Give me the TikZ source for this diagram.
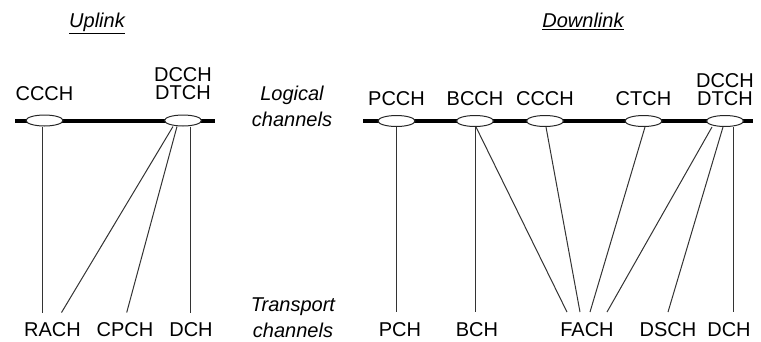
\documentclass[tikz,border=0pt]{standalone}
\usepackage{fontspec}
\setmainfont{Liberation Sans}
\usetikzlibrary{shapes.geometric}
\begin{document}
\begin{tikzpicture}[x=1pt,y=-1pt,
  lbl/.style={inner sep=0pt, anchor=base, font=\fontsize{20}{18.5}\selectfont, align=center},
  side/.style={inner sep=0pt, anchor=base, font=\fontsize{20}{26}\selectfont\itshape, align=center},
  head/.style={inner sep=0pt, anchor=base, font=\fontsize{20}{24}\selectfont\itshape},
  trch/.style={lbl, outer ysep=10pt},
  chan/.style={draw=black!85, line width=1pt, fill=white, ellipse,
               minimum width=37pt, minimum height=11pt, inner sep=0pt},
  bus/.style={line width=4pt, black},
  link/.style={draw=black!80, line width=1pt}]
\useasboundingbox (0,0) rectangle (761,341);

% headings
\node[head] (uphead) at (97,27.5) {\underline{Uplink}};
\node[head] (dnhead) at (583,27.5) {\underline{Downlink}};

% side captions
\node[side] (logical) at (292,126.7) {Logical\\channels};
\node[side] (transport) at (293,337) {Transport\\channels};

% logical channel buses
\draw[bus] (15,120.5) -- (215,120.5);
\draw[bus] (363,121) -- (753,121);

% uplink logical channels
\node[chan] (cU) at (44.5,120.5) {};
\node[chan] (dU) at (183,120.5) {};
\node[lbl] (cUt) at (44.5,100.7) {CCCH};
\node[lbl] (dUt) at (183,99.5) {DCCH\\DTCH};

% downlink logical channels
\node[chan] (p)  at (396.5,121) {};
\node[chan] (b)  at (475,121) {};
\node[chan] (cD) at (545,121) {};
\node[chan] (ct) at (643.5,121) {};
\node[chan] (dD) at (725,121) {};
\node[lbl] (pt)  at (396.5,105.7) {PCCH};
\node[lbl] (bt)  at (475,105.7) {BCCH};
\node[lbl] (cDt) at (545,105.7) {CCCH};
\node[lbl] (ctt) at (643.5,105.7) {CTCH};
\node[lbl] (dDt) at (725,105.7) {DCCH\\DTCH};

% transport channels
\node[trch] (rach) at (52.5,336.5) {RACH};
\node[trch] (cpch) at (125,336.5) {CPCH};
\node[trch] (dchU) at (191,336.5) {DCH};
\node[trch] (pch)  at (400,336) {PCH};
\node[trch] (bch)  at (477,336) {BCH};
\node[trch] (fach) at (587,336) {FACH};
\node[trch] (dsch) at (668,336) {DSCH};
\node[trch] (dchD) at (729,336) {DCH};

% uplink mapping
\draw[link] ([xshift=-2.5pt]cU.south) -- ([xshift=-10.5pt]rach.north);
\draw[link] ([xshift=-10pt]dU.south) -- ([xshift=9pt]rach.north);
\draw[link] ([xshift=-6pt]dU.south) -- ([xshift=1.7pt]cpch.north);
\draw[link] ([xshift=7pt]dU.south) -- ([xshift=-1pt]dchU.north);

% downlink mapping
\draw[link] (p.south) -- ([xshift=-3.5pt]pch.north);
\draw[link] (b.south) -- ([xshift=-2pt]bch.north);
\draw[link] ([xshift=1pt]b.south) -- ([xshift=-20pt]fach.north);
\draw[link] ([xshift=1pt]cD.south) -- ([xshift=-7pt]fach.north);
\draw[link] ([xshift=1.5pt]ct.south) -- ([xshift=3pt]fach.north);
\draw[link] ([xshift=-13pt]dD.south) -- ([xshift=20pt]fach.north);
\draw[link] ([xshift=-2pt]dD.south) -- (dsch.north);
\draw[link] ([xshift=8pt]dD.south) -- ([xshift=4pt]dchD.north);
\end{tikzpicture}
\end{document}
